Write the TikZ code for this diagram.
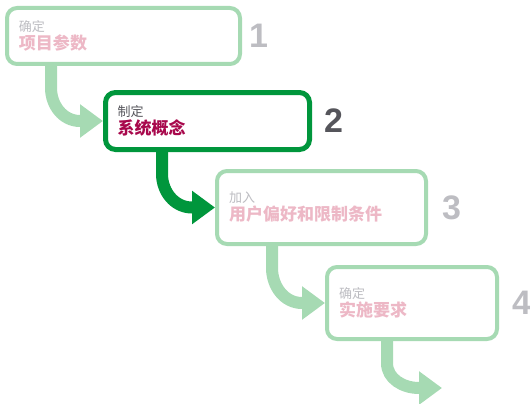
\documentclass[tikz,border=0pt]{standalone}
\usepackage{fontspec}
\setmainfont{Noto Sans CJK SC}
\newfontfamily\numfont{Liberation Sans}
\usetikzlibrary{arrows.meta,positioning}
\definecolor{palegreen}{HTML}{A6DAB3}
\definecolor{darkgreen}{HTML}{00963C}
\definecolor{palepink}{HTML}{EDB8C6}
\definecolor{crimson}{HTML}{A8084C}
\definecolor{palegray}{HTML}{BDBDC2}
\definecolor{darkgray}{HTML}{55555B}
\begin{document}
\begin{tikzpicture}[x=1pt, y=-1pt,
    stepbox/.style={rectangle, draw=palegreen, line width=4pt, rounded corners=10pt, fill=white, align=left, inner xsep=12pt, inner ysep=0pt, font=\fontsize{13}{18}\selectfont},
    current/.style={draw=darkgreen, line width=5pt},
    stepnum/.style={font=\numfont\bfseries\fontsize{34}{34}\selectfont, text=palegray, inner sep=0pt},
    flow/.style={palegreen, line width=12pt, -{Triangle[length=23pt, width=32pt]}}
]
    \useasboundingbox (0,0) rectangle (530,404);

    % Schritte
    \node[stepbox, text width=209pt, minimum height=56pt] (box1) at (123.5,36)
        {{\color{palegray}确定}\\{\color{palepink}\fontsize{17}{18}\selectfont\bfseries 项目参数}};
    \node[stepbox, current, text width=180pt, minimum height=57pt] (box2) at (207.5,121)
        {{\color{darkgray}制定}\\{\color{crimson}\fontsize{17}{18}\selectfont\bfseries 系统概念}};
    \node[stepbox, text width=185pt, minimum height=73pt] (box3) at (321.5,207.5)
        {{\color{palegray}加入}\\{\color{palepink}\fontsize{17}{18}\selectfont\bfseries 用户偏好和限制条件}};
    \node[stepbox, text width=146pt, minimum height=72pt] (box4) at (412,303)
        {{\color{palegray}确定}\\{\color{palepink}\fontsize{17}{18}\selectfont\bfseries 实施要求}};

    % Nummern
    \node[stepnum, right=7pt of box1] (num1) {1};
    \node[stepnum, right=12pt of box2, text=darkgray] (num2) {2};
    \node[stepnum, right=14pt of box3] (num3) {3};
    \node[stepnum, right=13pt of box4] (num4) {4};

    % Pfeile
    \coordinate (out4) at (442,388);
    \draw[flow] ([xshift=46pt]box1.south west) -- ++(0,22) to[out=-90, in=180] ([xshift=-23pt]box2.west) -- (box2.west);
    \draw[flow, darkgreen] ([xshift=59pt]box2.south west) -- ++(0,22) to[out=-90, in=180] ([xshift=-23pt]box3.west) -- (box3.west);
    \draw[flow] ([xshift=57pt]box3.south west) -- ++(0,22) to[out=-90, in=180] ([xshift=-23pt]box4.west) -- (box4.west);
    \draw[flow] ([xshift=62pt]box4.south west) -- ++(0,22) to[out=-90, in=180] ([xshift=-23pt]out4) -- (out4);
\end{tikzpicture}
\end{document}
